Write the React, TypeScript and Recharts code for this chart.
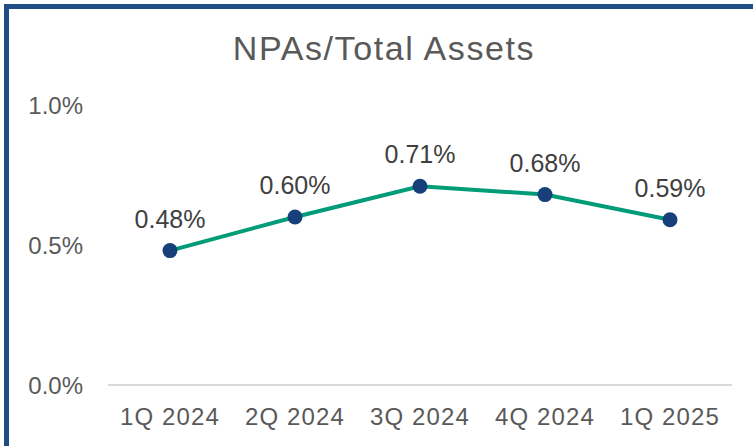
import React from 'react';
import { LineChart, Line, XAxis, YAxis, LabelList } from 'recharts';

const categories = ['1Q 2024', '2Q 2024', '3Q 2024', '4Q 2024', '1Q 2025'];
const npaValues = [0.48, 0.6, 0.71, 0.68, 0.59];
const yTicks = [0, 0.5, 1.0];

const data = categories.map((c, i) => ({ quarter: c, value: npaValues[i] }));

const FONT = '"Liberation Sans", Arial, sans-serif';

export default function App() {
  return (
    <div style={{ position: 'absolute', left: 0, top: 0, width: 753, height: 446, background: '#fff', overflow: 'hidden', fontFamily: FONT }}>
      <div style={{ position: 'absolute', left: 4, top: 4, width: 749, height: 5, background: '#1F4E85' }} />
      <div style={{ position: 'absolute', left: 4, top: 4, width: 5, height: 442, background: '#1F4E85' }} />
      <div style={{ position: 'absolute', left: 0, top: 29, width: 768, textAlign: 'center', fontSize: 34, letterSpacing: 1.6, color: '#595959', lineHeight: '38px' }}>
        NPAs/Total Assets
      </div>
      <LineChart width={753} height={446} data={data} margin={{ top: 105, right: 21, bottom: 0, left: 0 }}>
        <XAxis
          dataKey="quarter"
          height={61}
          padding={{ left: 62, right: 62 }}
          axisLine={{ stroke: '#D9D9D9', strokeWidth: 2 }}
          tickLine={false}
          tickSize={0}
          tickMargin={23}
          tick={{ fill: '#595959', fontSize: 24, fontFamily: FONT, letterSpacing: 1.1 }}
        />
        <YAxis
          width={108}
          domain={[0, 1]}
          ticks={yTicks}
          axisLine={false}
          tickLine={false}
          tickSize={0}
          tickMargin={25}
          tickFormatter={(v: number) => v.toFixed(1) + '%'}
          tick={{ fill: '#595959', fontSize: 24, fontFamily: FONT }}
        />
        <Line
          type="linear"
          dataKey="value"
          stroke="#009B77"
          strokeWidth={4}
          dot={{ r: 7.5, fill: '#17407A', stroke: '#17407A', strokeWidth: 0 }}
          activeDot={false}
          isAnimationActive={false}
        >
          <LabelList
            dataKey="value"
            position="top"
            offset={23}
            formatter={(v: number) => v.toFixed(2) + '%'}
            style={{ fill: '#404040', fontSize: 25, fontFamily: FONT }}
          />
        </Line>
      </LineChart>
    </div>
  );
}
